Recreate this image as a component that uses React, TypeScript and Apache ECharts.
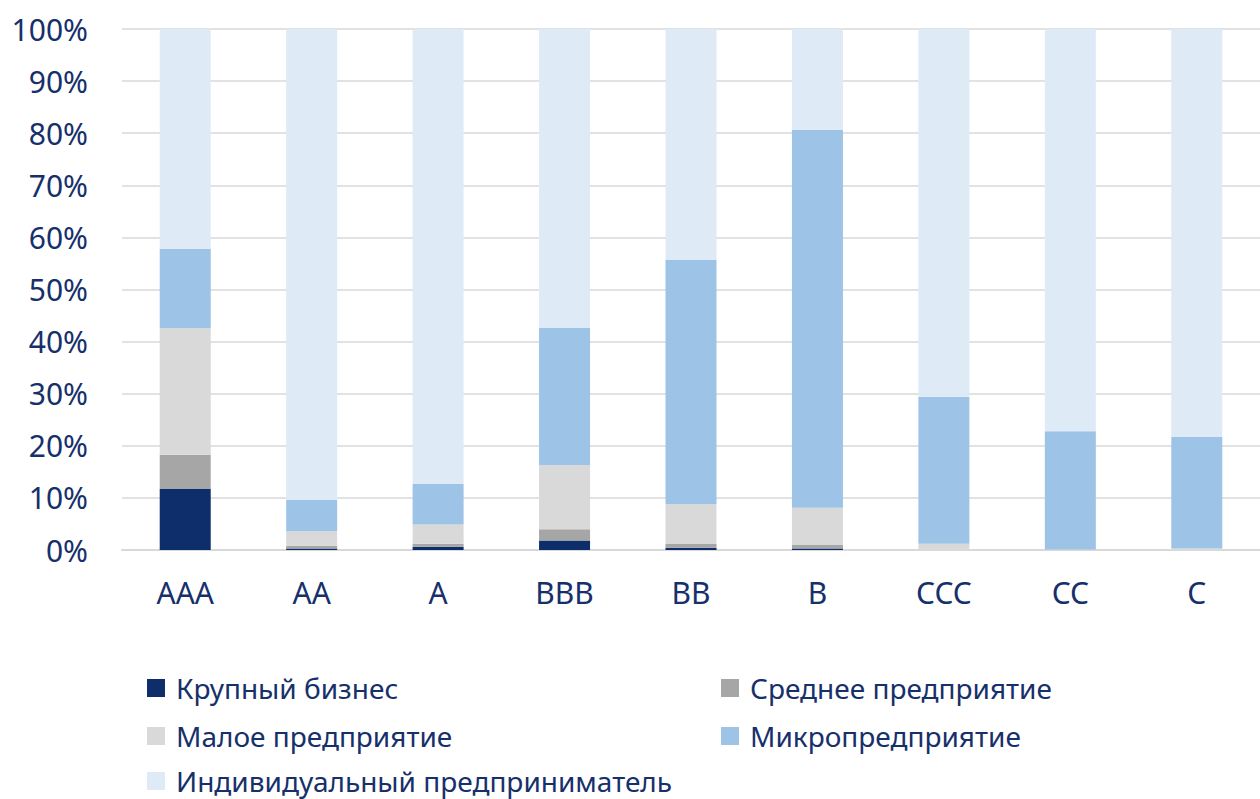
import React, { useEffect, useRef } from "react";
import * as echarts from "echarts";

const categories = ["AAA", "AA", "A", "BBB", "BB", "B", "CCC", "CC", "C"];
const seriesNames = [
  "Крупный бизнес",
  "Среднее предприятие",
  "Малое предприятие",
  "Микропредприятие",
  "Индивидуальный предприниматель",
];
const large = [11.7, 0.3, 0.6, 1.8, 0.45, 0.3, 0, 0, 0];
const medium = [6.6, 0.5, 0.6, 2.2, 0.7, 0.65, 0, 0, 0];
const small = [24.3, 2.8, 3.7, 12.3, 7.7, 7.15, 1.2, 0.1, 0.3];
const micro = [15.2, 6.0, 7.8, 26.3, 46.85, 72.5, 28.2, 22.7, 21.4];
const individual = [42.2, 90.4, 87.3, 57.4, 44.3, 19.4, 70.6, 77.2, 78.3];
const yTicks = [0, 10, 20, 30, 40, 50, 60, 70, 80, 90, 100];

const colors = ["#0e2d6b", "#a6a6a6", "#d9d9d9", "#9dc3e6", "#deeaf6"];
const NAVY = "#16306b";
const FONT = "Noto Sans";

// legend placement: [left, top] per series
const legendPos: [number, number][] = [
  [147, 674],
  [721, 674],
  [147, 722],
  [721, 722],
  [147, 767],
];

export default function App() {
  const ref = useRef<HTMLDivElement>(null);
  useEffect(() => {
    document.body.style.margin = "0";
    if (!ref.current) return;
    const chart = echarts.init(ref.current, null, { renderer: "svg" });
    const data = [large, medium, small, micro, individual];
    chart.setOption({
      animation: false,
      color: colors,
      textStyle: { fontFamily: FONT },
      grid: { left: 122, width: 1143, top: 29, height: 521 },
      legend: seriesNames.map((name, i) => ({
        data: [name],
        left: legendPos[i][0],
        top: legendPos[i][1],
        padding: 0,
        icon: "rect",
        itemWidth: 18,
        itemHeight: 18,
        itemGap: 0,
        textStyle: { color: NAVY, fontSize: 28, fontFamily: FONT, lineHeight: 26, padding: [0, 0, 0, 6] },
      })),
      xAxis: {
        type: "category",
        data: categories,
        axisLine: { lineStyle: { color: "#d9d9d9", width: 2 } },
        axisTick: { show: false },
        axisLabel: { color: NAVY, fontSize: 30, fontFamily: FONT, margin: 27 },
      },
      yAxis: {
        type: "value",
        min: yTicks[0],
        max: yTicks[yTicks.length - 1],
        interval: 10,
        axisLine: { show: false },
        axisTick: { show: false },
        splitLine: { lineStyle: { color: "#d9d9d9", width: 1.5 } },
        axisLabel: {
          color: NAVY,
          fontSize: 30,
          fontFamily: FONT,
          margin: 34,
          formatter: (v: number) => v + "%",
        },
      },
      series: seriesNames.map((name, i) => ({
        name,
        type: "bar",
        stack: "total",
        barWidth: 51,
        data: data[i],
        itemStyle: { color: colors[i] },
      })),
    });
    return () => chart.dispose();
  }, []);
  return <div ref={ref} style={{ width: 1260, height: 799 }} />;
}
